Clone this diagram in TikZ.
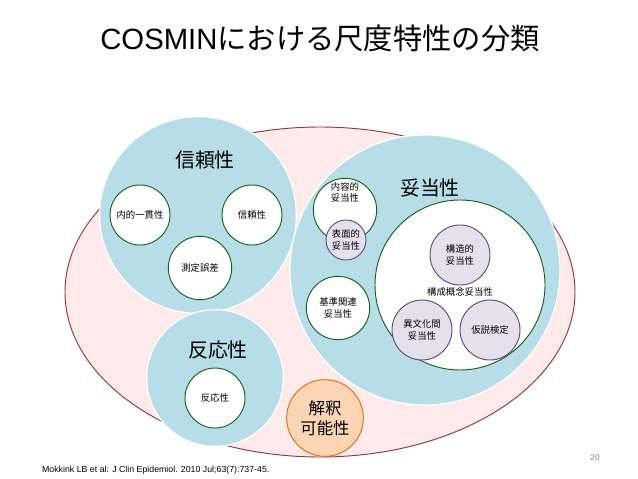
\documentclass[tikz,border=0pt]{standalone}
\usepackage{fontspec}
\setmainfont{Liberation Sans}
\newfontfamily\jp{Noto Sans CJK JP}
\definecolor{areablue}{RGB}{183,222,232}
\definecolor{pinkfill}{RGB}{253,234,234}
\definecolor{pinkline}{RGB}{150,55,55}
\definecolor{subfill}{RGB}{230,224,236}
\definecolor{subline}{RGB}{96,73,122}
\definecolor{propline}{RGB}{20,100,20}
\definecolor{intfill}{RGB}{252,213,180}
\definecolor{intline}{RGB}{228,108,10}
\tikzset{
	area/.style = {circle, draw=white, line width=1pt, fill=areablue, inner sep=0pt},
	prop/.style = {circle, draw=propline, thick, fill=white, align=center,
		inner sep=0pt, font=\jp\fontsize{8}{9.5}\selectfont},
	sub/.style = {prop, draw=subline, fill=subfill},
	biglabel/.style = {font=\jp\fontsize{17}{18}\selectfont}
}
\begin{document}
\begin{tikzpicture}[x=0.03cm, y=-0.03cm]
\useasboundingbox (0,0) rectangle (638,479);
\node (title) at (320,38) {\fontsize{25}{27}\selectfont COSMIN\jp における尺度特性の分類};
%----------------- outer ellipse --------------
\draw[draw=pinkline, thick, fill=pinkfill] (320,292) ellipse [x radius=255, y radius=165];
%----------------- areas --------------
\node (rel) [area, minimum size=5.9cm] at (198,215) {};
\node (resp) [area, minimum size=4.1cm] at (215,378) {};
\node (val) [area, minimum size=8.1cm] at (425,270) {};
\node (relL) [biglabel] at (205,160) {信頼性};
\node (respL) [biglabel] at (218,350) {反応性};
\node (valL) [biglabel] at (430,188) {妥当性};
%----------------- properties --------------
\node (ic) [prop, minimum size=1.8cm] at (140,215) {内的一貫性};
\node (rl) [prop, minimum size=1.8cm] at (252,215) {信頼性};
\node (me) [prop, minimum size=1.9cm] at (200,268) {測定誤差};
\node (rs) [prop, minimum size=1.8cm] at (215,398) {反応性};
\node (cv) [prop, minimum size=1.9cm, text depth=1.1cm] at (345,210) {内容的\\妥当性};
\node (fv) [sub, minimum size=1.2cm] at (346,240) {表面的\\妥当性};
\node (crit) [prop, minimum size=1.9cm] at (338,308) {基準関連\\妥当性};
\node (cons) [prop, minimum size=5.1cm] at (460,285) {};
\node (consL) [font=\jp\fontsize{8}{9.5}\selectfont] at (460,292) {構成概念妥当性};
\node (str) [sub, minimum size=1.8cm] at (460,255) {構造的\\妥当性};
\node (cc) [sub, minimum size=1.8cm] at (422,330) {異文化間\\妥当性};
\node (hyp) [sub, minimum size=1.8cm] at (490,330) {仮説検定};
\node (int) [circle, draw=intline, thick, fill=intfill, minimum size=2.3cm, align=center,
	inner sep=0pt, font=\jp\fontsize{14}{17}\selectfont] at (325,418) {解釈\\可能性};
%----------------- footer --------------
\node (ref) [anchor=west, font=\fontsize{7.5}{8}\selectfont] at (38,470) {Mokkink LB et al: J Clin Epidemiol. 2010 Jul;63(7):737-45.};
\node (page) [font=\fontsize{7}{8}\selectfont, text=gray] at (595,458) {20};
\end{tikzpicture}
\end{document}
